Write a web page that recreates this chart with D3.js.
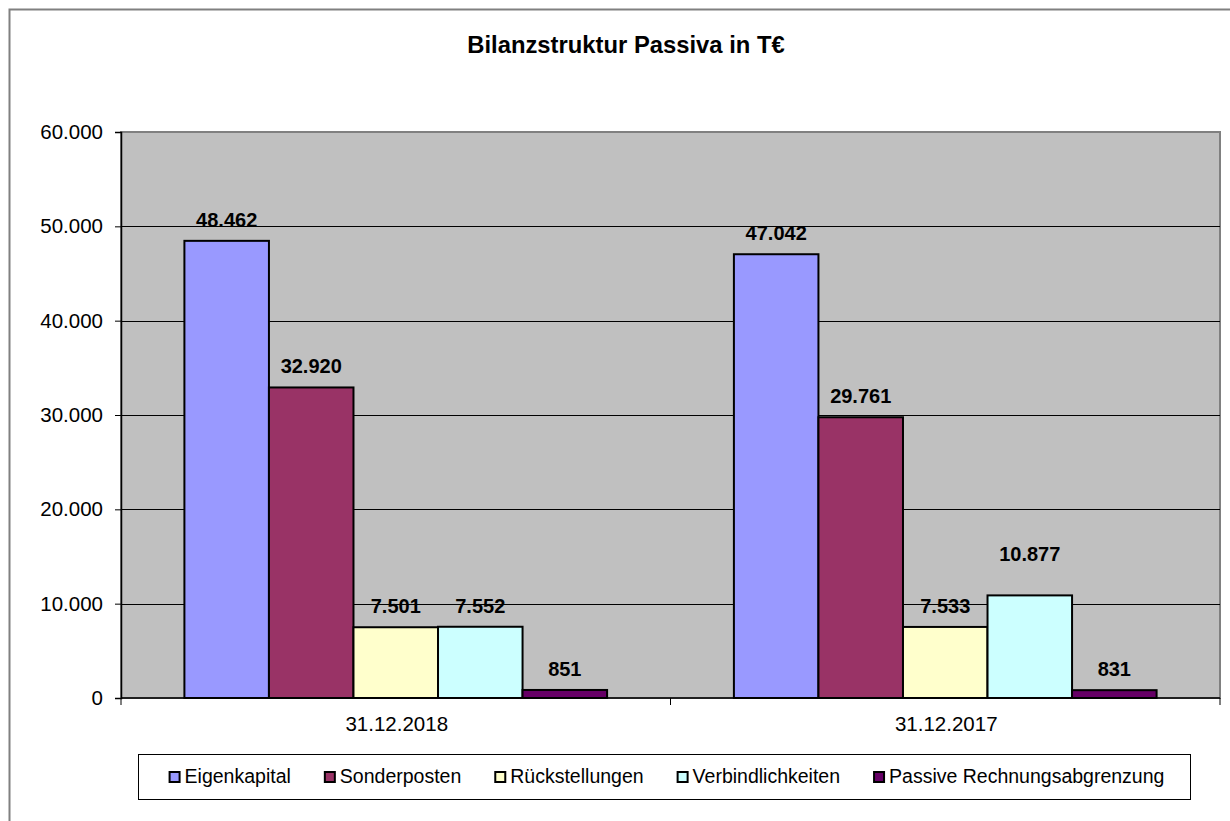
<!DOCTYPE html>
<html>
<head>
<meta charset="utf-8">
<script src="https://cdn.jsdelivr.net/npm/d3@7"></script>
<style>
  html, body { margin: 0; padding: 0; background: #fff; }
  svg { display: block; font-family: Arial, "Liberation Sans", sans-serif; }
</style>
</head>
<body>
<svg id="chart" width="1230" height="821"></svg>
<script>
// ---- data ----
const categories = ["31.12.2018", "31.12.2017"];
const seriesNames = ["Eigenkapital", "Sonderposten", "Rückstellungen", "Verbindlichkeiten", "Passive Rechnungsabgrenzung"];
const eigenkapital = [48462, 47042];
const sonderposten = [32920, 29761];
const rueckstellungen = [7501, 7533];
const verbindlichkeiten = [7552, 10877];
const passiveRAP = [851, 831];
const yTicks = [0, 10000, 20000, 30000, 40000, 50000, 60000];
const title = "Bilanzstruktur Passiva in T€";

const seriesValues = [eigenkapital, sonderposten, rueckstellungen, verbindlichkeiten, passiveRAP];
const colors = ["#9999FF", "#993366", "#FFFFCC", "#CCFFFF", "#660066"];

// ---- layout ----
const svg = d3.select("#chart");
const plot = { left: 121, right: 1220, top: 132, bottom: 698 };
const de = d3.formatLocale({ decimal: ",", thousands: ".", grouping: [3], currency: ["", " €"] });
const fmt = de.format(",d");

// outer chart border
svg.append("rect")
  .attr("x", 9.5).attr("y", 9.5).attr("width", 1245).attr("height", 825)
  .attr("fill", "#fff").attr("stroke", "#808080").attr("stroke-width", 2);

// title
svg.append("text")
  .attr("x", 626).attr("y", 53)
  .attr("text-anchor", "middle")
  .attr("font-size", 23.8).attr("font-weight", "bold")
  .text(title);

const y = d3.scaleLinear().domain([0, 60000]).range([plot.bottom, plot.top]);
const x0 = d3.scaleBand().domain(categories).range([plot.left, plot.right]).padding(0);
const x1 = d3.scaleBand().domain(seriesNames).range([0, x0.bandwidth()])
  .paddingInner(0).paddingOuter(0.75);

// plot area background
svg.append("rect")
  .attr("x", plot.left).attr("y", plot.top)
  .attr("width", plot.right - plot.left).attr("height", plot.bottom - plot.top)
  .attr("fill", "#C0C0C0").attr("stroke", "#808080").attr("stroke-width", 2);

// gridlines
svg.append("g").selectAll("line")
  .data(yTicks.filter(d => d > 0 && d < 60000))
  .join("line")
  .attr("x1", plot.left).attr("x2", plot.right)
  .attr("y1", d => Math.round(y(d)) + 0.5).attr("y2", d => Math.round(y(d)) + 0.5)
  .attr("stroke", "#000").attr("stroke-width", 1);

// y axis
const yAxis = svg.append("g")
  .attr("transform", `translate(${plot.left},0)`)
  .call(d3.axisLeft(y).tickValues(yTicks).tickFormat(fmt).tickSize(6).tickPadding(12));
yAxis.select(".domain").attr("stroke", "#000").attr("stroke-width", 1.5);
yAxis.selectAll(".tick line").attr("stroke", "#000");
yAxis.selectAll(".tick text")
  .attr("font-size", 20.5).attr("font-family", "Arial, 'Liberation Sans', sans-serif")
  .attr("fill", "#000");

// x axis
const xAxisG = svg.append("g").attr("transform", `translate(0,${plot.bottom})`);
xAxisG.append("line")
  .attr("x1", plot.left).attr("x2", plot.right).attr("y1", 0).attr("y2", 0)
  .attr("stroke", "#000").attr("stroke-width", 1.5);
const catBounds = [plot.left].concat(categories.map(c => x0(c) + x0.bandwidth()));
xAxisG.selectAll("line.ctick").data(catBounds).join("line")
  .attr("class", "ctick")
  .attr("x1", d => d).attr("x2", d => d).attr("y1", 0).attr("y2", 7)
  .attr("stroke", "#000").attr("stroke-width", 1);
xAxisG.selectAll("text").data(categories).join("text")
  .attr("x", d => x0(d) + x0.bandwidth() / 2 + 1)
  .attr("y", 33)
  .attr("text-anchor", "middle")
  .attr("font-size", 20.5)
  .text(d => d);

// bars
const barData = [];
categories.forEach((c, ci) => {
  seriesNames.forEach((s, si) => {
    barData.push({ cat: c, series: s, si, ci, value: seriesValues[si][ci] });
  });
});

svg.append("g").selectAll("rect").data(barData).join("rect")
  .attr("x", d => x0(d.cat) + x1(d.series))
  .attr("y", d => y(d.value))
  .attr("width", x1.bandwidth())
  .attr("height", d => y(0) - y(d.value))
  .attr("fill", d => colors[d.si])
  .attr("stroke", "#000").attr("stroke-width", 2);

// data labels (one label was moved up in the original)
const labelLift = d => (d.series === "Verbindlichkeiten" && d.cat === "31.12.2017") ? 34 : 14;
svg.append("g").selectAll("text").data(barData).join("text")
  .attr("x", d => x0(d.cat) + x1(d.series) + x1.bandwidth() / 2)
  .attr("y", d => y(d.value) - labelLift(d))
  .attr("text-anchor", "middle")
  .attr("font-size", 20).attr("font-weight", "bold")
  .text(d => fmt(d.value));

// legend
const legend = { left: 138, right: 1190, top: 754, bottom: 799 };
svg.append("rect")
  .attr("x", legend.left + 0.5).attr("y", legend.top + 0.5)
  .attr("width", legend.right - legend.left).attr("height", legend.bottom - legend.top)
  .attr("fill", "#fff").attr("stroke", "#000").attr("stroke-width", 1);

const lg = svg.append("g");
const items = lg.selectAll("g").data(seriesNames).join("g");
items.append("rect")
  .attr("width", 10).attr("height", 10)
  .attr("fill", (d, i) => colors[i])
  .attr("stroke", "#000").attr("stroke-width", 2);
items.append("text")
  .attr("x", 15).attr("y", 11)
  .attr("font-size", 19.5)
  .text(d => d);
let cx = 0;
const offsets = [];
items.each(function () {
  const w = d3.select(this).select("text").node().getComputedTextLength();
  offsets.push(cx);
  cx += 15 + w + 34;
});
const totalW = cx - 34;
const startX = (legend.left + legend.right) / 2 - totalW / 2 + 3;
items.attr("transform", (d, i) => `translate(${startX + offsets[i]},${772})`);
</script>
</body>
</html>
